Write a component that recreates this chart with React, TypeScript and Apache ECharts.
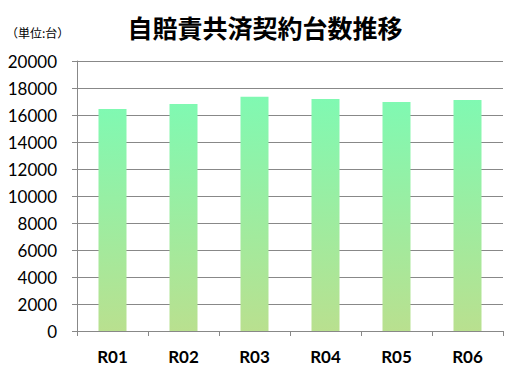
import React, { useEffect, useRef } from "react";
import * as echarts from "echarts";

const categories = ["R01", "R02", "R03", "R04", "R05", "R06"];
const contracts = [16450, 16820, 17360, 17190, 16960, 17110];
const yMin = 0;
const yMax = 20000;
const yInterval = 2000;

export default function App() {
  const ref = useRef<HTMLDivElement>(null);
  useEffect(() => {
    if (!ref.current) return;
    const chart = echarts.init(ref.current, null, { renderer: "svg" });
    chart.setOption({
      animation: false,
      backgroundColor: "#ffffff",
      title: {
        text: "自賠責共済契約台数推移",
        left: 260,
        textAlign: "center",
        top: 9,
        textStyle: {
          fontFamily: "Noto Sans CJK JP",
          fontSize: 25,
          fontWeight: "bold",
          color: "#000",
        },
      },
      graphic: [
        {
          type: "text",
          left: 6,
          top: 26,
          style: {
            text: "（単位:台）",
            font: "12px 'Noto Sans CJK JP'",
            fill: "#000",
          },
        },
      ],
      grid: { left: 77, right: 15, top: 61, bottom: 44, containLabel: false },
      xAxis: {
        type: "category",
        data: categories,
        axisLine: { show: true, lineStyle: { color: "#888", width: 1 } },
        axisTick: { show: true, length: 5, alignWithLabel: false, lineStyle: { color: "#888" } },
        axisLabel: {
          margin: 17,
          fontFamily: "Lato",
          fontWeight: "bold",
          fontSize: 17,
          color: "#000",
        },
      },
      yAxis: {
        type: "value",
        min: yMin,
        max: yMax,
        interval: yInterval,
        axisLine: { show: true, lineStyle: { color: "#888", width: 1 } },
        axisTick: { show: true, length: 5, lineStyle: { color: "#888" } },
        splitLine: { show: true, lineStyle: { color: "#888", width: 1 } },
        axisLabel: {
          margin: 20,
          formatter: (v: number) => String(v),
          fontFamily: "Lato",
          fontSize: 17,
          color: "#000",
        },
      },
      series: [
        {
          type: "bar",
          data: contracts,
          barWidth: 28,
          itemStyle: {
            color: new echarts.graphic.LinearGradient(0, 0, 0, 1, [
              { offset: 0, color: "#80F9B2" },
              { offset: 1, color: "#B9E08F" },
            ]),
          },
        },
      ],
    });
    return () => chart.dispose();
  }, []);
  return <div ref={ref} style={{ width: 518, height: 375, position: "absolute", left: 0, top: 0 }} />;
}
